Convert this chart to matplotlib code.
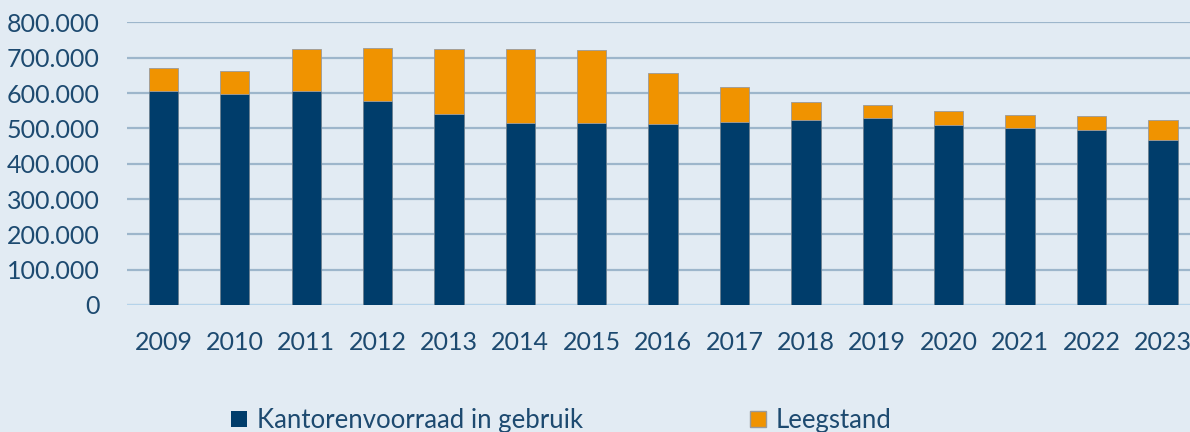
import numpy as np
import matplotlib.pyplot as plt
from matplotlib.patches import Patch
from matplotlib.ticker import FuncFormatter

years = ['2009', '2010', '2011', '2012', '2013', '2014', '2015', '2016',
         '2017', '2018', '2019', '2020', '2021', '2022', '2023']
in_gebruik = [605000, 597000, 605000, 579000, 540000, 515000, 515000, 512000,
              518000, 523000, 529000, 510000, 501000, 496000, 468000]
totaal = [670000, 663000, 726000, 728000, 724000, 724000, 721000, 657000,
          618000, 575000, 567000, 550000, 537000, 534000, 523000]
leegstand = [t - g for t, g in zip(totaal, in_gebruik)]

bg = '#e2ebf3'
blauw = '#003d6b'
oranje = '#f09300'
tekst = '#1d4a70'

plt.rcParams['font.family'] = ['Lato', 'DejaVu Sans']

fig = plt.figure(figsize=(11.9, 4.32), dpi=100, facecolor=bg)
ax = fig.add_axes([0.1067, 0.294, 0.8933, 0.654], facecolor=bg)

x = np.arange(len(years))
ax.bar(x, in_gebruik, width=0.41, color=blauw, edgecolor='#6b7f90', linewidth=0.6, zorder=3)
ax.bar(x, leegstand, width=0.41, bottom=in_gebruik, color=oranje, edgecolor='#9a9a9a',
       linewidth=0.6, zorder=3)

ax.set_ylim(0, 800000)
ax.set_xlim(-0.51, 14.38)
ax.set_yticks(np.arange(0, 800001, 100000))
ax.yaxis.set_major_formatter(FuncFormatter(lambda v, p: f'{int(v):,}'.replace(',', '.')))
ax.set_xticks(x)
ax.set_xticklabels(years)
ax.grid(axis='y', color='#9db6cb', linewidth=1.6, zorder=0)
ax.set_axisbelow(True)
for s in ax.spines.values():
    s.set_visible(False)
ax.axhline(0, color='#b9d7ee', linewidth=2, zorder=2)
ax.tick_params(axis='both', length=0, labelsize=18, labelcolor=tekst)
ax.tick_params(axis='y', pad=19.5)
ax.tick_params(axis='x', pad=19)

handles = [Patch(facecolor=blauw, edgecolor='none'), Patch(facecolor=oranje, edgecolor='#9a9a9a')]
fig.legend(handles, ['Kantorenvoorraad in gebruik', 'Leegstand'], loc='center',
           bbox_to_anchor=(0.472, 0.026), ncol=2, frameon=False, fontsize=18.5,
           labelcolor=tekst, handlelength=0.6, handleheight=0.6, handletextpad=0.4,
           columnspacing=6.5)

fig.savefig('out.png', dpi=100, facecolor=bg)
